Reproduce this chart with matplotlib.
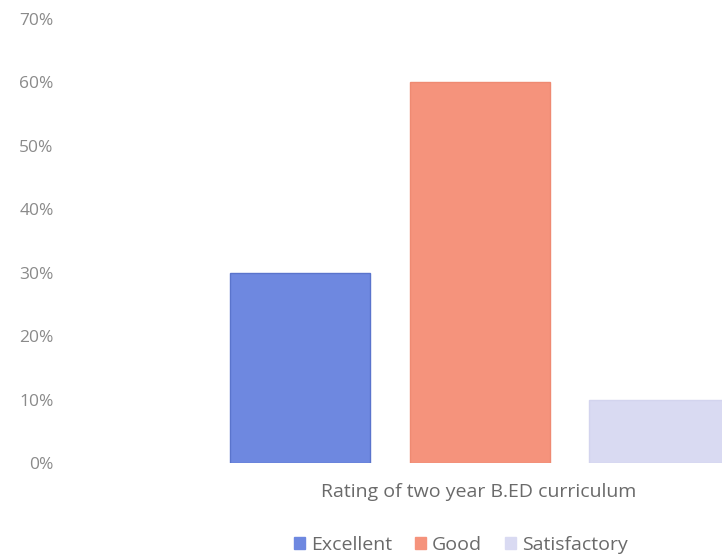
import matplotlib
matplotlib.use("Agg")
import matplotlib.pyplot as plt
from matplotlib.ticker import PercentFormatter

plt.rcParams.update({"font.family": ["Open Sans", "DejaVu Sans"]})

categories = ["Excellent", "Good", "Satisfactory"]
values = [0.30, 0.60, 0.10]
colors = ["#6e88e0", "#f5937c", "#d9daf2"]
edges = ["#5a74cc", "#ef8a72", "#d3d4ee"]
yticks = [0, 0.1, 0.2, 0.3, 0.4, 0.5, 0.6, 0.7]
xlabel = "Rating of two year B.ED curriculum"
TXT = "#8a8a8a"

fig = plt.figure(figsize=(7.22, 5.57), dpi=100)
fig.patch.set_facecolor("white")
# axes box in pixels: x 80..722, y 19..463
ax = fig.add_axes([80 / 722, (557 - 463) / 557, (722 - 80) / 722, (463 - 19) / 557])

pos = list(range(len(categories)))
bars = ax.bar(pos, values, width=0.78, color=colors, edgecolor=edges, lw=1,
              label=categories)

ax.set_xlim(-1.226, 2.351)
ax.set_ylim(0, 0.7)
ax.set_yticks(yticks)
ax.yaxis.set_major_formatter(PercentFormatter(1.0, decimals=0))
ax.tick_params(axis="y", length=0, pad=19, labelsize=12.5, labelcolor=TXT)
ax.set_xticks([])
for s in ax.spines.values():
    s.set_visible(False)

fig.text(479 / 722, 1 - 492 / 557, xlabel, ha="center", va="center",
         fontsize=14, color="#6a6a6a")

handles = [plt.Rectangle((0, 0), 1, 1, color=c) for c in colors]
fig.legend(handles, categories, loc="center", bbox_to_anchor=(461 / 722, 1 - 545 / 557),
           ncol=3, frameon=False, fontsize=14, labelcolor="#6a6a6a",
           handlelength=0.55, handleheight=0.55, handletextpad=0.3, columnspacing=1.2)

fig.savefig("out.png", dpi=100, facecolor="white")
